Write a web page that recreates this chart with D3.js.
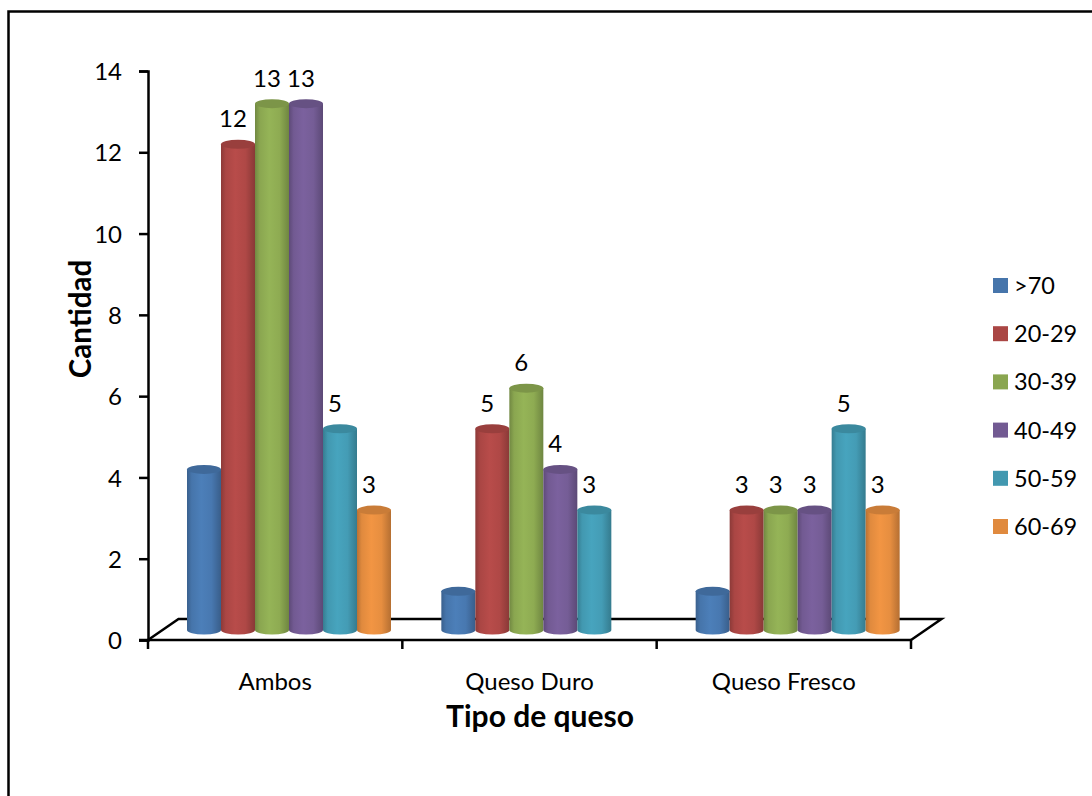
<!DOCTYPE html>
<html>
<head>
<meta charset="utf-8">
<style>
html,body{margin:0;padding:0;background:#fff}
svg{display:block}
text{font-family:Lato,"Open Sans",sans-serif;fill:#000}
</style>
<script src="https://cdn.jsdelivr.net/npm/d3@7/dist/d3.min.js"></script>
</head>
<body>
<script>
// Cheese preference by age bracket, drawn as pseudo-3D cylinders.
const categories = ["Ambos", "Queso Duro", "Queso Fresco"];
const ageGroups = [">70", "20-29", "30-39", "40-49", "50-59", "60-69"];
const valuesOver70 = [4, 1, 1];
const values20to29 = [12, 5, 3];
const values30to39 = [13, 6, 3];
const values40to49 = [13, 4, 3];
const values50to59 = [5, 3, 5];
const values60to69 = [3, null, 3];
const seriesValues = [valuesOver70, values20to29, values30to39, values40to49, values50to59, values60to69];
const labelledSeries = [false, true, true, true, true, true];
const yTicks = [0, 2, 4, 6, 8, 10, 12, 14];
const baseColors = ["#4675ab", "#aa4644", "#8aa650", "#725a92", "#4298b0", "#e08a3e"];

const W = 1092, H = 796;
const svg = d3.select("body").append("svg").attr("width", W).attr("height", H);
const defs = svg.append("defs");

const frame = {left: 8.5, top: 11.5};
const plot = {left: 148, right: 911, top: 71, bottom: 640};
const depth = {x: 30.5, y: 21};

const y = d3.scaleLinear().domain([0, 14]).range([plot.bottom, plot.top]);
const x = d3.scaleBand().domain(categories).range([plot.left, plot.right]);
const xInner = d3.scaleBand().domain(ageGroups)
  .range([39, 39 + 34 * ageGroups.length]);

// Cylinders sit partway into the floor, so their value axis is raised from the front edge.
const liftTop = 8;
const liftBase = 10;
const ry = 4.5;

// Side shading across each cylinder
baseColors.forEach((c, i) => {
  const col = d3.color(c);
  const g = defs.append("linearGradient").attr("id", "cyl" + i)
    .attr("x1", 0).attr("x2", 1).attr("y1", 0).attr("y2", 0);
  [[0, col.darker(0.55)], [0.14, col], [0.42, col.brighter(0.22)],
   [0.72, col.brighter(0.08)], [1, col.darker(0.6)]].forEach(([o, s]) =>
    g.append("stop").attr("offset", o).attr("stop-color", s));
});

// Outer frame, open on the right and bottom
svg.append("path")
  .attr("d", d3.line()([[frame.left, H], [frame.left, frame.top], [W, frame.top]]))
  .attr("fill", "none").attr("stroke", "#000").attr("stroke-width", 2.5);

// Floor outline
const floor = svg.append("g").attr("fill", "none").attr("stroke", "#000").attr("stroke-width", 2.5);
floor.append("path").attr("d", d3.line()([
  [plot.left, plot.bottom],
  [plot.left + depth.x, plot.bottom - depth.y],
  [plot.right + depth.x, plot.bottom - depth.y],
  [plot.right, plot.bottom]
]));

// Axes
const yAxis = d3.axisLeft(y).tickValues(yTicks).tickSize(9).tickPadding(17);
const gy = svg.append("g").attr("transform", `translate(${plot.left},0)`).call(yAxis);
gy.selectAll("path,line").attr("stroke", "#000").attr("stroke-width", 2.5);
gy.selectAll("text").style("font-size", "24px").attr("dy", "0.36em");

const xAxis = d3.axisBottom(x).tickSize(0).tickPadding(0);
const gx = svg.append("g").attr("transform", `translate(0,${plot.bottom})`).call(xAxis);
gx.select("path").remove();
gx.selectAll(".tick line").remove();
gx.selectAll("text").attr("y", 50).attr("dy", 0).style("font-size", "24px");
gx.selectAll(".boundary").data(d3.range(categories.length + 1)).enter().append("line")
  .attr("x1", i => plot.left + x.step() * i).attr("x2", i => plot.left + x.step() * i)
  .attr("y1", 0).attr("y2", 9).attr("stroke", "#000").attr("stroke-width", 2.5);
svg.append("line").attr("x1", plot.left - 9).attr("x2", plot.right)
  .attr("y1", plot.bottom).attr("y2", plot.bottom).attr("stroke", "#000").attr("stroke-width", 2.5);

// Cylinders
const bars = svg.append("g");
seriesValues.forEach((vals, s) => {
  const col = d3.color(baseColors[s]);
  vals.forEach((v, c) => {
    if (v === null) return;
    const bw = xInner.bandwidth();
    const x0 = x(categories[c]) + xInner(ageGroups[s]);
    const top = y(v) - liftTop;
    const bottom = y(0) - liftBase;
    const rx = bw / 2;
    bars.append("path")
      .attr("d", `M${x0},${top}V${bottom}A${rx},${ry} 0 0 0 ${x0 + bw},${bottom}V${top}Z`)
      .attr("fill", `url(#cyl${s})`);
    bars.append("ellipse")
      .attr("cx", x0 + rx).attr("cy", top).attr("rx", rx).attr("ry", ry)
      .attr("fill", col.darker(0.3));
    if (labelledSeries[s]) {
      bars.append("text").attr("x", x0 + rx - 5).attr("y", top - 17)
        .attr("text-anchor", "middle").style("font-size", "24px").text(v);
    }
  });
});

// Axis titles
svg.append("text").attr("x", 540).attr("y", 727).attr("text-anchor", "middle")
  .style("font-size", "30px").style("font-weight", 700).text("Tipo de queso");
svg.append("text").attr("transform", "translate(91,319) rotate(-90)").attr("text-anchor", "middle")
  .style("font-size", "29.5px").style("font-weight", 700).text("Cantidad");

// Legend
const legendY = d3.scalePoint().domain(ageGroups).range([286, 527]);
const legend = svg.append("g").selectAll("g").data(ageGroups).enter().append("g")
  .attr("transform", d => `translate(993,${legendY(d)})`);
legend.append("rect").attr("x", 0).attr("y", -8).attr("width", 15).attr("height", 15)
  .attr("fill", (d, i) => baseColors[i]);
legend.append("text").attr("x", 21).attr("y", 8).style("font-size", "23.5px").text(d => d);
</script>
</body>
</html>
